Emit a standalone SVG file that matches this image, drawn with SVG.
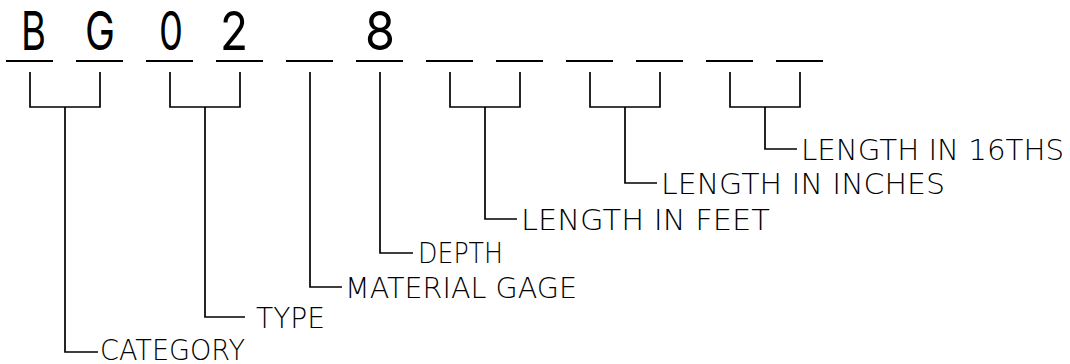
<svg xmlns="http://www.w3.org/2000/svg" width="1070" height="364" viewBox="0 0 1070 364">
<style>
.bg{fill:#fff}
.ul{stroke:#000;stroke-width:2.2;fill:none}
.cn{stroke:#000;stroke-width:1.7;fill:none}
.big{font-family:Inter,"DejaVu Sans",sans-serif;font-weight:400;font-size:54px;fill:#000}
.lbl{font-family:"DejaVu Sans","Liberation Sans",sans-serif;font-weight:200;font-size:27.5px;fill:#000}
</style>
<rect class="bg" x="0" y="0" width="1070" height="364"/>
<g id="code">
<path class="ul" d="M6 61H53M76 61H123M146 61H193M216 61H263M286 61H333M356 61H403M426 61H473M496 61H543M566 61H613M636 61H683M706 61H753M776 61H823"/>
<text class="big" x="21" y="50" textLength="25" lengthAdjust="spacingAndGlyphs">B</text>
<text class="big" x="85" y="50" textLength="30" lengthAdjust="spacingAndGlyphs">G</text>
<text class="big" x="159" y="50" textLength="24" lengthAdjust="spacingAndGlyphs">0</text>
<text class="big" x="220" y="50" textLength="28" lengthAdjust="spacingAndGlyphs">2</text>
<text class="big" x="365" y="50" textLength="30" lengthAdjust="spacingAndGlyphs">8</text>
</g>
<g id="connectors">
<path class="cn" d="M30 72V107H100V72M65 107V352H98"/>
<path class="cn" d="M170 72V107H240V72M205 107V317H245"/>
<path class="cn" d="M310 72V287H342"/>
<path class="cn" d="M380 72V253H413"/>
<path class="cn" d="M450 72V107H520V72M485 107V219H517"/>
<path class="cn" d="M590 72V107H660V72M625 107V183H657"/>
<path class="cn" d="M730 72V107H800V72M765 107V149H797"/>
</g>
<g id="label-category"><text class="lbl" x="100" y="360" font-size="27" textLength="145" lengthAdjust="spacingAndGlyphs">CATEGORY</text></g>
<g id="label-type"><text class="lbl" x="256" y="328" textLength="69" lengthAdjust="spacingAndGlyphs">TYPE</text></g>
<g id="label-material-gage"><text class="lbl" x="345" y="298" textLength="232" lengthAdjust="spacingAndGlyphs">MATERIAL GAGE</text></g>
<g id="label-depth"><text class="lbl" x="418" y="263" textLength="85" lengthAdjust="spacingAndGlyphs">DEPTH</text></g>
<g id="label-feet"><text class="lbl" x="521" y="230" textLength="249" lengthAdjust="spacingAndGlyphs">LENGTH IN FEET</text></g>
<g id="label-inches"><text class="lbl" x="661" y="194" textLength="284" lengthAdjust="spacingAndGlyphs">LENGTH IN INCHES</text></g>
<g id="label-16ths"><text class="lbl" x="801" y="160" textLength="263" lengthAdjust="spacingAndGlyphs">LENGTH IN 16THS</text></g>
</svg>
